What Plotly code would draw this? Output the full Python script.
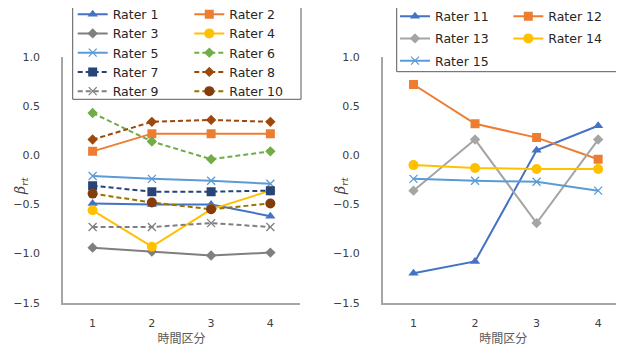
import plotly.graph_objects as go

periods = ["1", "2", "3", "4"]

left_names = ["Rater 1", "Rater 2", "Rater 3", "Rater 4", "Rater 5",
              "Rater 6", "Rater 7", "Rater 8", "Rater 9", "Rater 10"]
left_values = [
    [-0.49, -0.50, -0.50, -0.62],
    [0.04, 0.22, 0.22, 0.22],
    [-0.94, -0.98, -1.02, -0.99],
    [-0.56, -0.93, -0.55, -0.36],
    [-0.21, -0.24, -0.26, -0.29],
    [0.43, 0.14, -0.04, 0.04],
    [-0.31, -0.37, -0.37, -0.36],
    [0.16, 0.34, 0.36, 0.34],
    [-0.73, -0.73, -0.69, -0.73],
    [-0.39, -0.48, -0.55, -0.49],
]
right_names = ["Rater 11", "Rater 12", "Rater 13", "Rater 14", "Rater 15"]
right_values = [
    [-1.20, -1.08, 0.05, 0.30],
    [0.72, 0.32, 0.18, -0.04],
    [-0.36, 0.16, -0.69, 0.16],
    [-0.10, -0.13, -0.14, -0.14],
    [-0.24, -0.26, -0.27, -0.36],
]

# style: (line color, marker color, symbol, dash)
left_styles = [
    ("#4472C4", "#4472C4", "triangle-up", "solid"),
    ("#ED7D31", "#ED7D31", "square", "solid"),
    ("#7F7F7F", "#7F7F7F", "diamond", "solid"),
    ("#FFC000", "#FFC000", "circle", "solid"),
    ("#5B9BD5", "#5B9BD5", "x-thin", "solid"),
    ("#70AD47", "#70AD47", "diamond", "dash"),
    ("#264478", "#264478", "square", "dash"),
    ("#9E480E", "#9E480E", "diamond", "dash"),
    ("#7F7F7F", "#7F7F7F", "x-thin", "dash"),
    ("#997300", "#843C0C", "circle", "dash"),
]
right_styles = [
    ("#4472C4", "#4472C4", "triangle-up", "solid"),
    ("#ED7D31", "#ED7D31", "square", "solid"),
    ("#A5A5A5", "#A5A5A5", "diamond", "solid"),
    ("#FFC000", "#FFC000", "circle", "solid"),
    ("#5B9BD5", "#5B9BD5", "x-thin", "solid"),
]

sizes = {"triangle-up": 9, "square": 9, "diamond": 8, "circle": 10, "x-thin": 8}

# The page body has an 8px default margin; the figure fills the rest of the window.
OFF = 8
W, H = 624 - OFF, 346 - OFF
fig = go.Figure()


def px(x):
    return (x - OFF) / W


def py(y):
    return 1 - (y - OFF) / H


def add(names, values, styles, xa, ya, legends, grouped):
    for i, (n, v, (lc, mc, sym, dash)) in enumerate(zip(names, values, styles)):
        fig.add_trace(go.Scatter(
            x=periods, y=v, name=n, mode="lines+markers",
            line=dict(color=lc, width=2, dash="solid" if dash == "solid" else "5px,3px"),
            marker=dict(symbol=sym, size=sizes[sym], color=mc,
                        line=dict(color=mc, width=1.3 if sym == "x-thin" else 0)),
            xaxis=xa, yaxis=ya, legend=legends[i % 2],
            legendgroup=n if grouped else None,
        ))


add(left_names, left_values, left_styles, "x", "y", ["legend", "legend2"], False)
add(right_names, right_values, right_styles, "x2", "y2", ["legend3", "legend4"], True)

tickfont = dict(family="DejaVu Sans", size=11, color="#404040")
axis_common = dict(showgrid=False, zeroline=False, showline=True,
                   linecolor="#A6A6A6", linewidth=1.5, tickfont=tickfont,
                   automargin=False)
ydom = [py(302.7), py(57)]

yaxis_common = dict(axis_common, range=[-1.5, 1.0], dtick=0.5, tickformat=".1f",
                    ticks="outside", ticklen=19, tickcolor="rgba(0,0,0,0)")
xtitle = dict(text="時間区分", font=dict(family="Noto Sans CJK JP", size=12, color="#595959"),
              standoff=9)
xaxis_common = dict(axis_common, type="category", title=xtitle,
                    ticks="outside", ticklen=9, tickcolor="rgba(0,0,0,0)")

legend_common = dict(orientation="v", bgcolor="rgba(0,0,0,0)", borderwidth=0,
                     font=dict(family="DejaVu Sans", size=12.5, color="#262626"),
                     xanchor="left", yanchor="top", itemwidth=30)

ytitle_font = dict(family="DejaVu Serif", size=14, color="#404040")
ytitle_text = "<i>β<sub>rt</sub></i>"

fig.update_layout(
    width=W, height=H,
    margin=dict(l=0, r=0, t=0, b=0, pad=0, autoexpand=False),
    paper_bgcolor="white", plot_bgcolor="white",
    xaxis=dict(xaxis_common, domain=[px(63), px(300)], range=[-0.5, 3.5], anchor="y"),
    yaxis=dict(yaxis_common, domain=ydom, anchor="x"),
    xaxis2=dict(xaxis_common, domain=[px(382.7), 1.0], range=[-0.5, 3.42], anchor="y2"),
    yaxis2=dict(yaxis_common, domain=ydom, anchor="x2"),
    legend=dict(legend_common, x=px(72.7), y=py(-0.5)),
    legend2=dict(legend_common, x=px(189.3), y=py(-0.5)),
    legend3=dict(legend_common, x=px(395), y=py(1.5), tracegroupgap=3),
    legend4=dict(legend_common, x=px(508.3), y=py(1.5), tracegroupgap=3),
    showlegend=True,
    annotations=[
        dict(text=ytitle_text, xref="paper", yref="paper", x=px(21), y=py(186),
             textangle=-90, showarrow=False, font=ytitle_font,
             xanchor="center", yanchor="middle"),
        dict(text=ytitle_text, xref="paper", yref="paper", x=px(341), y=py(186),
             textangle=-90, showarrow=False, font=ytitle_font,
             xanchor="center", yanchor="middle"),
    ],
    shapes=[
        dict(type="rect", xref="paper", yref="paper", layer="below",
             x0=px(72.7), x1=px(301), y0=py(99.3), y1=py(6),
             line=dict(color="#595959", width=1), fillcolor="white"),
        dict(type="rect", xref="paper", yref="paper", layer="below",
             x0=px(396.7), x1=px(623), y0=py(71.7), y1=py(6),
             line=dict(color="#595959", width=1), fillcolor="white"),
    ],
)

fig.write_html("out.html")
